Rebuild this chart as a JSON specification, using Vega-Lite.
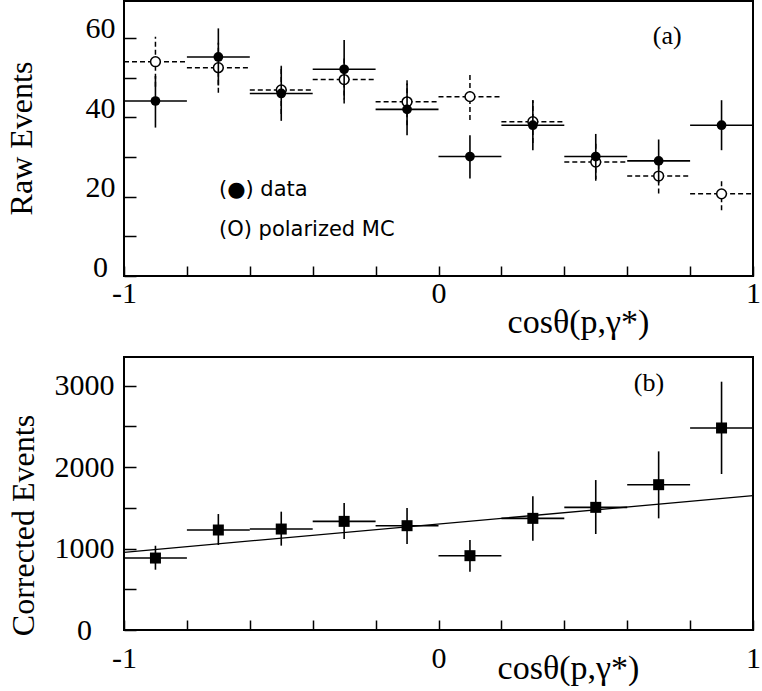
{
  "$schema": "https://vega.github.io/schema/vega-lite/v6.json",
  "padding": {"left": 4, "top": 0, "right": 2, "bottom": 0},
  "spacing": 81,
  "bounds": "flush",
  "config": {
    "view": {"stroke": "black", "strokeWidth": 2},
    "axis": {"domain": false, "grid": false, "tickColor": "black", "tickWidth": 1.5, "labelColor": "black", "titleColor": "black", "labelFont": "Liberation Serif", "titleFont": "Liberation Serif", "titleFontWeight": "normal", "labelFontSize": 30, "titleFontSize": 32}
  },
  "datasets": {
    "raw": [
      {"x": -0.9, "xlo": -1.0, "xhi": -0.8, "data": 44.1, "data_lo": 37.4, "data_hi": 50.4, "mc": 54.0, "mc_lo": 47.7, "mc_hi": 60.3},
      {"x": -0.7, "xlo": -0.8, "xhi": -0.6, "data": 55.2, "data_lo": 48.0, "data_hi": 62.4, "mc": 52.5, "mc_lo": 46.2, "mc_hi": 58.8},
      {"x": -0.5, "xlo": -0.6, "xhi": -0.4, "data": 46.0, "data_lo": 39.1, "data_hi": 52.9, "mc": 46.9, "mc_lo": 40.8, "mc_hi": 53.0},
      {"x": -0.3, "xlo": -0.4, "xhi": -0.2, "data": 52.1, "data_lo": 44.5, "data_hi": 59.5, "mc": 49.5, "mc_lo": 43.5, "mc_hi": 55.5},
      {"x": -0.1, "xlo": -0.2, "xhi": 0.0, "data": 42.0, "data_lo": 35.5, "data_hi": 48.5, "mc": 43.9, "mc_lo": 38.0, "mc_hi": 49.8},
      {"x": 0.1, "xlo": 0.0, "xhi": 0.2, "data": 30.1, "data_lo": 24.6, "data_hi": 35.5, "mc": 45.2, "mc_lo": 39.3, "mc_hi": 50.9},
      {"x": 0.3, "xlo": 0.2, "xhi": 0.4, "data": 38.0, "data_lo": 31.7, "data_hi": 44.3, "mc": 38.9, "mc_lo": 33.5, "mc_hi": 44.3},
      {"x": 0.5, "xlo": 0.4, "xhi": 0.6, "data": 30.1, "data_lo": 24.4, "data_hi": 35.8, "mc": 28.7, "mc_lo": 24.0, "mc_hi": 33.4},
      {"x": 0.7, "xlo": 0.6, "xhi": 0.8, "data": 29.0, "data_lo": 23.4, "data_hi": 34.4, "mc": 25.2, "mc_lo": 20.8, "mc_hi": 30.0},
      {"x": 0.9, "xlo": 0.8, "xhi": 1.0, "data": 38.0, "data_lo": 31.7, "data_hi": 44.3, "mc": 20.7, "mc_lo": 16.6, "mc_hi": 24.4}
    ],
    "corr": [
      {"x": -0.9, "xlo": -1.0, "xhi": -0.8, "n": 883, "lo": 740, "hi": 1034},
      {"x": -0.7, "xlo": -0.8, "xhi": -0.6, "n": 1227, "lo": 1043, "hi": 1423},
      {"x": -0.5, "xlo": -0.6, "xhi": -0.4, "n": 1239, "lo": 1035, "hi": 1452},
      {"x": -0.3, "xlo": -0.4, "xhi": -0.2, "n": 1333, "lo": 1117, "hi": 1558},
      {"x": -0.1, "xlo": -0.2, "xhi": 0.0, "n": 1280, "lo": 1055, "hi": 1497},
      {"x": 0.1, "xlo": 0.0, "xhi": 0.2, "n": 912, "lo": 716, "hi": 1104},
      {"x": 0.3, "xlo": 0.2, "xhi": 0.4, "n": 1370, "lo": 1096, "hi": 1640},
      {"x": 0.5, "xlo": 0.4, "xhi": 0.6, "n": 1505, "lo": 1178, "hi": 1840},
      {"x": 0.7, "xlo": 0.6, "xhi": 0.8, "n": 1783, "lo": 1370, "hi": 2192},
      {"x": 0.9, "xlo": 0.8, "xhi": 1.0, "n": 2479, "lo": 1914, "hi": 3047}
    ],
    "fit": [
      {"x": -1, "y": 953},
      {"x": 1, "y": 1648}
    ],
    "legendA": [
      {"x": -0.698, "y": 21.7, "t": "(●) data"},
      {"x": -0.698, "y": 11.6, "t": "(O) polarized MC"}
    ],
    "labelA": [{"x": 0.727, "y": 60.5, "t": "(a)"}],
    "labelB": [{"x": 0.669, "y": 3031, "t": "(b)"}]
  },
  "vconcat": [
    {
      "width": 629,
      "height": 275,
      "layer": [
        {
          "data": {"name": "raw"},
          "mark": {"type": "rule", "strokeDash": [5, 3], "strokeWidth": 1.5, "color": "black"},
          "encoding": {
            "x": {"field": "x", "type": "quantitative", "scale": {"domain": [-1, 1], "nice": false, "zero": false},
              "axis": {"orient": "bottom", "values": [-1, -0.95, -0.9, -0.85, -0.8, -0.75, -0.7, -0.65, -0.6, -0.55, -0.5, -0.45, -0.4, -0.35, -0.3, -0.25, -0.2, -0.15, -0.1, -0.05, 0, 0.05, 0.1, 0.15, 0.2, 0.25, 0.3, 0.35, 0.4, 0.45, 0.5, 0.55, 0.6, 0.65, 0.7, 0.75, 0.8, 0.85, 0.9, 0.95, 1],
                "tickSize": -10,
                "tickDash": {"condition": {"test": "abs(datum.value * 5 - round(datum.value * 5)) > 0.001", "value": [4, 200]}, "value": [200, 0]},
                "labelExpr": "datum.value == -1 ? '-1' : datum.value == 0 ? '0' : datum.value == 1 ? '1' : ''",
                "labelFlush": false, "labelOverlap": false, "labelBound": false, "labelPadding": 27, "labelBaseline": "middle", "labelAlign": "center",
                "title": "cosθ(p,γ*)", "titleX": 454, "titleY": 46, "titleAlign": "center", "titleBaseline": "middle", "titleFontSize": 34}},
            "y": {"field": "mc_lo", "type": "quantitative", "scale": {"domain": [0, 69.3], "nice": false, "zero": false},
              "axis": {"orient": "left", "values": [0, 10, 20, 30, 40, 50, 60], "tickSize": -12,
                "labelExpr": "datum.value % 20 == 0 ? datum.label : ''",
                "labelOverlap": false, "labelFlush": false, "labelBound": false, "labelPadding": 36, "labelAlign": "center", "labelBaseline": "alphabetic",
                "title": "Raw Events", "titleX": -103, "titleY": 137, "titleAngle": 270, "titleAlign": "center", "titleBaseline": "middle"}},
            "y2": {"field": "mc_hi"}
          }
        },
        {
          "data": {"name": "raw"},
          "mark": {"type": "rule", "strokeDash": [5, 3], "strokeWidth": 1.5, "color": "black"},
          "encoding": {
            "x": {"field": "xlo", "type": "quantitative"},
            "x2": {"field": "xhi"},
            "y": {"field": "mc", "type": "quantitative"}
          }
        },
        {
          "data": {"name": "raw"},
          "mark": {"type": "point", "shape": "circle", "size": 95, "filled": true, "fill": "white", "stroke": "black", "strokeWidth": 1.5, "opacity": 1},
          "encoding": {
            "x": {"field": "x", "type": "quantitative"},
            "y": {"field": "mc", "type": "quantitative"}
          }
        },
        {
          "data": {"name": "raw"},
          "mark": {"type": "rule", "strokeWidth": 1.6, "color": "black"},
          "encoding": {
            "x": {"field": "xlo", "type": "quantitative"},
            "x2": {"field": "xhi"},
            "y": {"field": "data", "type": "quantitative"}
          }
        },
        {
          "data": {"name": "raw"},
          "mark": {"type": "rule", "strokeWidth": 1.6, "color": "black"},
          "encoding": {
            "x": {"field": "x", "type": "quantitative"},
            "y": {"field": "data_lo", "type": "quantitative"},
            "y2": {"field": "data_hi"}
          }
        },
        {
          "data": {"name": "raw"},
          "mark": {"type": "point", "shape": "circle", "size": 95, "filled": true, "color": "black", "opacity": 1},
          "encoding": {
            "x": {"field": "x", "type": "quantitative"},
            "y": {"field": "data", "type": "quantitative"}
          }
        },
        {
          "data": {"name": "legendA"},
          "mark": {"type": "text", "align": "left", "baseline": "middle", "font": "DejaVu Sans", "fontSize": 21, "color": "black"},
          "encoding": {
            "x": {"field": "x", "type": "quantitative"},
            "y": {"field": "y", "type": "quantitative"},
            "text": {"field": "t"}
          }
        },
        {
          "data": {"name": "labelA"},
          "mark": {"type": "text", "align": "center", "baseline": "middle", "font": "Liberation Serif", "fontSize": 26, "color": "black"},
          "encoding": {
            "x": {"field": "x", "type": "quantitative"},
            "y": {"field": "y", "type": "quantitative"},
            "text": {"field": "t"}
          }
        }
      ]
    },
    {
      "width": 629,
      "height": 273,
      "layer": [
        {
          "data": {"name": "corr"},
          "mark": {"type": "rule", "strokeWidth": 1.6, "color": "black"},
          "encoding": {
            "x": {"field": "x", "type": "quantitative", "scale": {"domain": [-1, 1], "nice": false, "zero": false},
              "axis": {"orient": "bottom", "values": [-1, -0.95, -0.9, -0.85, -0.8, -0.75, -0.7, -0.65, -0.6, -0.55, -0.5, -0.45, -0.4, -0.35, -0.3, -0.25, -0.2, -0.15, -0.1, -0.05, 0, 0.05, 0.1, 0.15, 0.2, 0.25, 0.3, 0.35, 0.4, 0.45, 0.5, 0.55, 0.6, 0.65, 0.7, 0.75, 0.8, 0.85, 0.9, 0.95, 1],
                "tickSize": -10,
                "tickDash": {"condition": {"test": "abs(datum.value * 5 - round(datum.value * 5)) > 0.001", "value": [4, 200]}, "value": [200, 0]},
                "labelExpr": "datum.value == -1 ? '-1' : datum.value == 0 ? '0' : datum.value == 1 ? '1' : ''",
                "labelFlush": false, "labelOverlap": false, "labelBound": false, "labelPadding": 38, "labelBaseline": "middle", "labelAlign": "center",
                "title": "cosθ(p,γ*)", "titleX": 444, "titleY": 38, "titleAlign": "center", "titleBaseline": "middle", "titleFontSize": 34}},
            "y": {"field": "lo", "type": "quantitative", "scale": {"domain": [0, 3350], "nice": false, "zero": false},
              "axis": {"orient": "left", "values": [0, 500, 1000, 1500, 2000, 2500, 3000], "tickSize": -12,
                "labelExpr": "datum.value % 1000 == 0 ? '' + datum.value : ''",
                "labelOverlap": false, "labelFlush": false, "labelBound": false, "labelPadding": 52, "labelAlign": "center", "labelBaseline": "middle",
                "title": "Corrected Events", "titleX": -101, "titleY": 168, "titleAngle": 270, "titleAlign": "center", "titleBaseline": "middle"}},
            "y2": {"field": "hi"}
          }
        },
        {
          "data": {"name": "corr"},
          "mark": {"type": "rule", "strokeWidth": 1.6, "color": "black"},
          "encoding": {
            "x": {"field": "xlo", "type": "quantitative"},
            "x2": {"field": "xhi"},
            "y": {"field": "n", "type": "quantitative"}
          }
        },
        {
          "data": {"name": "fit"},
          "mark": {"type": "line", "strokeWidth": 1.3, "color": "black"},
          "encoding": {
            "x": {"field": "x", "type": "quantitative"},
            "y": {"field": "y", "type": "quantitative"}
          }
        },
        {
          "data": {"name": "corr"},
          "mark": {"type": "point", "shape": "square", "size": 121, "filled": true, "color": "black", "opacity": 1},
          "encoding": {
            "x": {"field": "x", "type": "quantitative"},
            "y": {"field": "n", "type": "quantitative"}
          }
        },
        {
          "data": {"name": "labelB"},
          "mark": {"type": "text", "align": "center", "baseline": "middle", "font": "Liberation Serif", "fontSize": 26, "color": "black"},
          "encoding": {
            "x": {"field": "x", "type": "quantitative"},
            "y": {"field": "y", "type": "quantitative"},
            "text": {"field": "t"}
          }
        }
      ]
    }
  ]
}
